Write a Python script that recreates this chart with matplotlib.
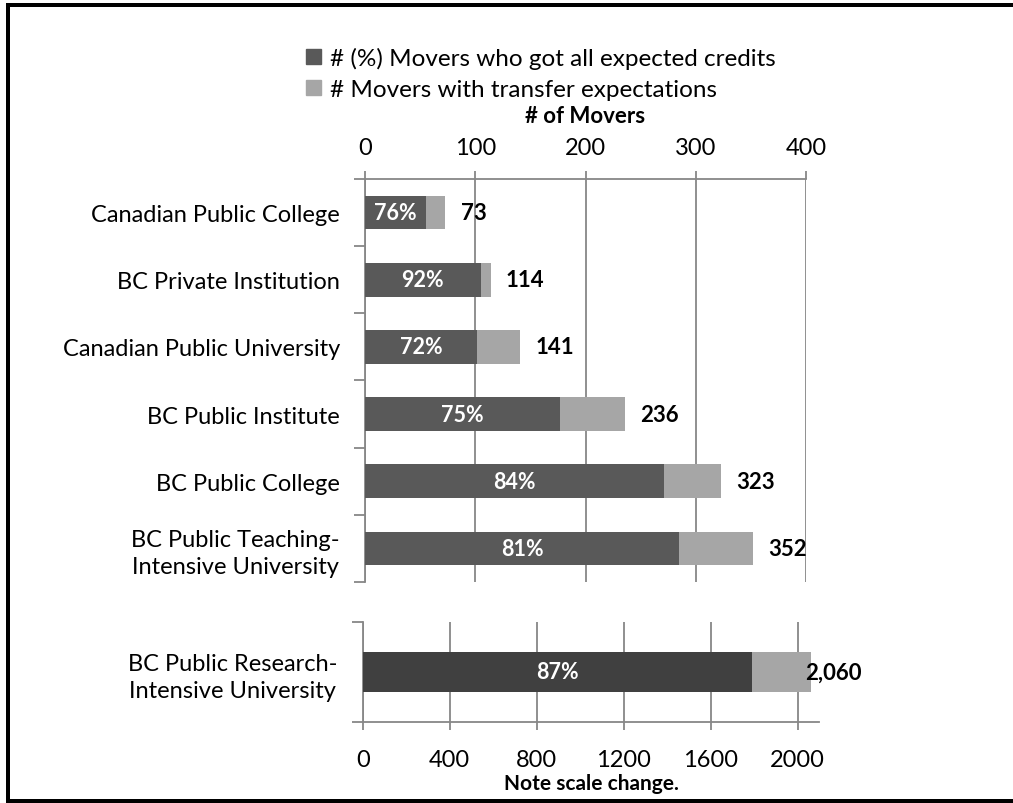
import numpy as np
import matplotlib.pyplot as plt
from matplotlib.lines import Line2D

plt.rcParams['font.family'] = ['Lato', 'DejaVu Sans']

# movers by receiving institution type (smaller groups)
categories = ["Canadian Public College", "BC Private Institution",
              "Canadian Public University", "BC Public Institute",
              "BC Public College", "BC Public Teaching-\nIntensive University"]
totals = [73, 114, 141, 236, 323, 352]
pct_all = [76, 92, 72, 75, 84, 81]

# the large group, drawn on its own scale
big_category = "BC Public Research-\nIntensive University"
big_total = 2060
big_pct = 87

dark_top = '#595959'
dark_big = '#404040'
light = '#a6a6a6'
grid_c = '#878787'

fig = plt.figure(figsize=(10.13, 8.04), dpi=100)

ax = fig.add_axes([0.3603, 0.2749, 0.4354, 0.5012])
y = np.arange(len(categories))
got = np.array(totals) * np.array(pct_all) / 100.0
rest = np.array(totals) - got
ax.barh(y, got, height=0.5, color=dark_top, zorder=3)
ax.barh(y, rest, left=got, height=0.5, color=light, zorder=3)
for i in range(len(categories)):
    ax.text(got[i] / 2, y[i], f"{pct_all[i]}%", color='white', fontsize=15.5,
            fontweight='bold', ha='center', va='center', zorder=4)
    ax.annotate(f"{totals[i]}", (totals[i], y[i]), xytext=(11, 0),
                textcoords='offset points', fontsize=16, fontweight='bold',
                ha='left', va='center', zorder=4)
ax.set_xlim(0, 400)
ax.set_ylim(len(categories) - 0.5, -0.5)
ax.set_xticks([0, 100, 200, 300, 400])
ax.xaxis.tick_top()
ax.xaxis.set_label_position('top')
ax.tick_params(axis='x', length=6, width=1.3, color=grid_c, labelsize=17, pad=9)
ax.set_xlabel("# of Movers", fontsize=16, fontweight='bold', labelpad=11)
ax.set_yticks(y)
ax.set_yticklabels(categories, multialignment='center', linespacing=1.35)
ax.set_yticks(np.arange(-0.5, len(categories)), minor=True)
ax.tick_params(axis='y', which='major', length=0, labelsize=17, pad=18)
ax.tick_params(axis='y', which='minor', length=8, width=1.3, color=grid_c)
ax.grid(axis='x', color=grid_c, linewidth=1.3, zorder=0)
for s in ['right', 'bottom']:
    ax.spines[s].set_visible(False)
for s in ['top', 'left']:
    ax.spines[s].set_color(grid_c)
    ax.spines[s].set_linewidth(1.3)

ax2 = fig.add_axes([0.358, 0.1011, 0.4508, 0.124])
big_got = big_total * big_pct / 100.0
ax2.barh([0], [big_got], height=0.4, color=dark_big, zorder=3)
ax2.barh([0], [big_total - big_got], left=[big_got], height=0.4, color=light, zorder=3)
ax2.text(big_got / 2, 0, f"{big_pct}%", color='white', fontsize=15.5,
         fontweight='bold', ha='center', va='center', zorder=4)
ax2.annotate(f"{big_total:,}", (big_total, 0), xytext=(-4, 0),
             textcoords='offset points', fontsize=16, fontweight='bold',
             ha='left', va='center', zorder=4)
ax2.set_xlim(0, 2100)
ax2.set_ylim(-0.5, 0.5)
ax2.set_xticks([0, 400, 800, 1200, 1600, 2000])
ax2.tick_params(axis='x', length=6, width=1.3, color=grid_c, labelsize=17, pad=14)
ax2.set_xlabel("Note scale change.", fontsize=15, fontweight='bold', labelpad=2)
ax2.set_yticks([0])
ax2.set_yticklabels([big_category], multialignment='center', linespacing=1.35)
ax2.set_yticks([-0.5, 0.5], minor=True)
ax2.tick_params(axis='y', which='major', length=0, labelsize=17, pad=18)
ax2.tick_params(axis='y', which='minor', length=8, width=1.3, color=grid_c)
ax2.grid(axis='x', color=grid_c, linewidth=1.3, zorder=0)
for s in ['right', 'top']:
    ax2.spines[s].set_visible(False)
for s in ['bottom', 'left']:
    ax2.spines[s].set_color(grid_c)
    ax2.spines[s].set_linewidth(1.3)

# legend
handles = [plt.Rectangle((0, 0), 1, 1, color=dark_top),
           plt.Rectangle((0, 0), 1, 1, color=light)]
fig.legend(handles, ["# (%) Movers who got all expected credits",
                     "# Movers with transfer expectations"],
           loc='upper left', bbox_to_anchor=(0.302, 0.94), frameon=False,
           fontsize=17.5, handlelength=0.6, handleheight=0.6, handletextpad=0.4,
           labelspacing=0.4, borderpad=0, borderaxespad=0)

# frame around the chart
lw = 4 * 0.72
fig.add_artist(Line2D([8 / 1013, 1.0], [1 - 5.5 / 804] * 2, color='black', lw=lw))
fig.add_artist(Line2D([8 / 1013] * 2, [1 - 5.5 / 804, 2 / 804], color='black', lw=lw))
fig.add_artist(Line2D([8 / 1013, 1.0], [2 / 804] * 2, color='black', lw=lw))

fig.savefig('out.png', dpi=100)
